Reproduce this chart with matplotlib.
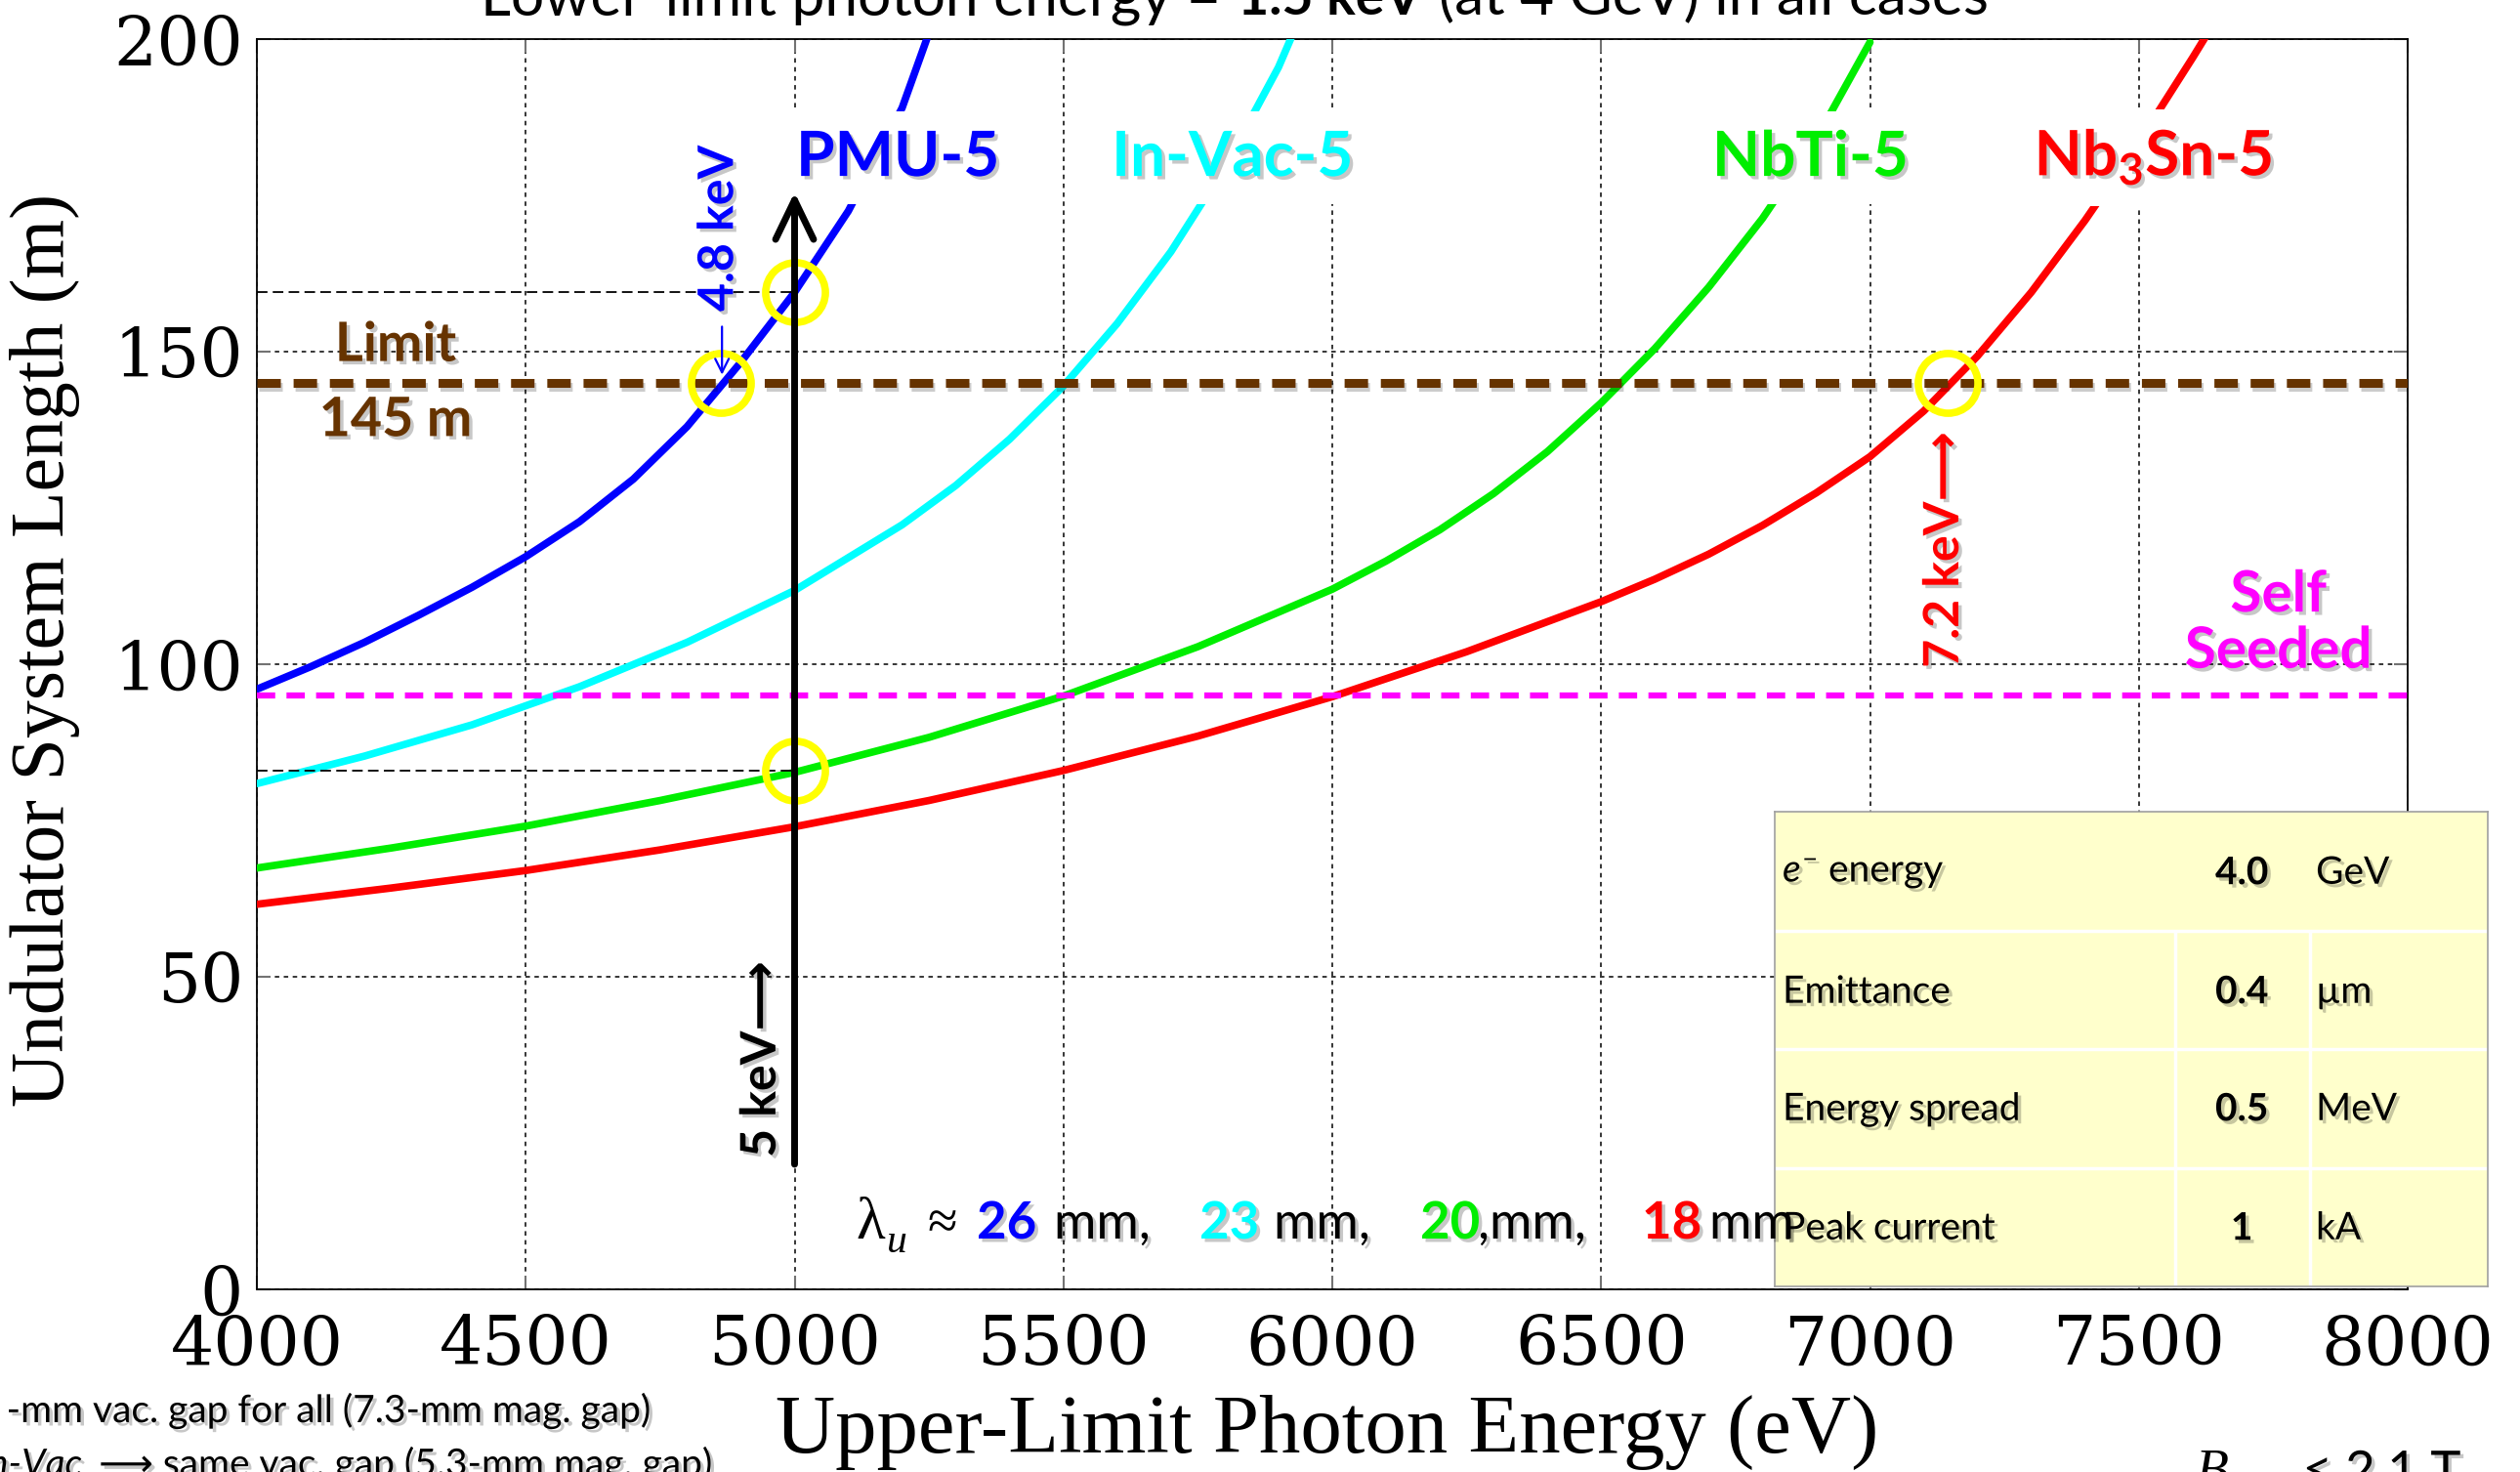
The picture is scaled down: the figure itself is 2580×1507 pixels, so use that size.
import matplotlib.pyplot as plt
import matplotlib.patheffects as pe
from matplotlib.transforms import IdentityTransform

plt.rcParams['mathtext.fontset'] = 'custom'
plt.rcParams['mathtext.rm'] = 'Lato'
plt.rcParams['mathtext.it'] = 'Lato:italic'
plt.rcParams['mathtext.bf'] = 'Lato:bold'

SANS = ['Lato', 'DejaVu Sans']
SERIF = ['Liberation Serif', 'DejaVu Serif']

####### undulator system length (m) vs upper-limit photon energy (eV) #######
pmu_E = [4000, 4100, 4200, 4300, 4400, 4500, 4600, 4700, 4800, 4900, 5000, 5100, 5200, 5250]
pmu_L = [96.0, 99.6, 103.5, 107.8, 112.3, 117.2, 122.8, 129.6, 138.0, 148.3, 159.5, 172.5, 189.0, 201.0]

invac_E = [4000, 4200, 4400, 4600, 4800, 5000, 5200, 5300, 5400, 5500, 5600, 5700, 5800, 5900, 5925]
invac_L = [80.9, 85.3, 90.3, 96.4, 103.5, 111.8, 122.3, 128.6, 136.0, 144.5, 154.5, 166.0, 179.5, 195.5, 200.5]

nbti_E = [4000, 4250, 4500, 4750, 5000, 5250, 5500, 5750, 6000, 6100, 6200, 6300, 6400, 6500,
          6600, 6700, 6800, 6900, 7000]
nbti_L = [67.4, 70.6, 74.1, 78.2, 82.7, 88.3, 94.9, 102.8, 112.0, 116.5, 121.5, 127.3, 134.0, 141.8,
          150.5, 160.3, 171.3, 184.0, 199.5]

nb3sn_E = [4000, 4250, 4500, 4750, 5000, 5250, 5500, 5750, 6000, 6250, 6500, 6600, 6700, 6800,
           6900, 7000, 7100, 7200, 7300, 7400, 7500, 7600, 7625]
nb3sn_L = [61.6, 64.2, 67.0, 70.3, 74.0, 78.2, 83.0, 88.5, 94.8, 102.0, 110.0, 113.6, 117.6, 122.2,
           127.4, 133.2, 140.5, 149.3, 159.5, 171.0, 183.5, 197.0, 200.5]

limit_L = 145      # length limit (m)
seeded_L = 95      # self-seeded
ref_E = 5000       # 5 keV reference
mark_E = [4862, 5000, 5000, 7145]
mark_L = [145, 159.5, 83, 145]

table_names = [r'$e^{-}$ energy', 'Emittance', 'Energy spread', 'Peak current']
table_vals = ['4.0', '0.4', '0.5', '1']
table_units = ['GeV', '\u00b5m', 'MeV', 'kA']

period_mm = ['26', '23', '20', '18']

BLUE, CYAN, GREEN, RED = '#0000FF', '#00FFFF', '#00EE00', '#FF0000'
BROWN, MAGENTA = '#663300', '#FF00FF'

shadow = [pe.withSimplePatchShadow(offset=(2.5, -2.5), shadow_rgbFace='k', alpha=0.22)]

W, H = 2580, 1507
fig = plt.figure(figsize=(W / 100, H / 100), dpi=100)
ax = fig.add_axes([263 / W, 1 - 1320 / H, 2202 / W, 1280 / H])

for E, L, c in [(pmu_E, pmu_L, BLUE), (invac_E, invac_L, CYAN),
                (nbti_E, nbti_L, GREEN), (nb3sn_E, nb3sn_L, RED)]:
    ax.plot(E, L, color=c, lw=5.5, zorder=3, solid_capstyle='round', solid_joinstyle='round')

ax.axhline(limit_L, color=BROWN, lw=6.5, dashes=(2.66, 1.45), zorder=4,
           path_effects=[pe.SimpleLineShadow(offset=(1.5, -3), alpha=0.2), pe.Normal()])
ax.axhline(seeded_L, color=MAGENTA, lw=4.5, dashes=(3.0, 1.85), zorder=4)
ax.hlines([mark_L[1], mark_L[2]], 4000, ref_E, colors='k', lw=1.3,
          linestyles=(0, (6, 3)), zorder=4)

ax.annotate('', xy=(ref_E, 175.5), xytext=(ref_E, 20),
            arrowprops=dict(arrowstyle='->,head_length=2.9,head_width=1.4', lw=5,
                            color='k', shrinkA=0, shrinkB=0), zorder=7)
ax.annotate('', xy=(4865, 146.3), xytext=(4865, 154),
            arrowprops=dict(arrowstyle='->,head_length=1.0,head_width=0.5', lw=1.6,
                            color=BLUE, shrinkA=0, shrinkB=0), zorder=7)
ax.plot(mark_E, mark_L, 'o', ms=44, mfc='none', mec='#FFFF00', mew=5.5, zorder=6)

ax.set_xlim(4000, 8000)
ax.set_ylim(0, 200)
ax.set_xticks(range(4000, 8001, 500))
ax.set_yticks(range(0, 201, 50))
ax.set_axisbelow(True)
ax.grid(True, color='k', lw=1.1, ls=(0, (3, 3)))
ax.tick_params(direction='in', length=10, width=1.5, color='0.45', top=True, right=True)
ax.tick_params(axis='x', pad=18, labelsize=50)
ax.tick_params(axis='y', pad=10, labelsize=50)
for lab in ax.get_xticklabels() + ax.get_yticklabels():
    lab.set_family('DejaVu Serif')
for s in ax.spines.values():
    s.set_linewidth(1.3)

ax.set_xlabel('Upper-Limit Photon Energy (eV)', family=SERIF, fontsize=61)
ax.set_ylabel('Undulator System Length (m)', family=SERIF, fontsize=56)
ax.xaxis.set_label_coords(0.4977, -0.084)
ax.yaxis.set_label_coords(-0.082, 0.511)

# curve names
box = dict(boxstyle='square,pad=0.3', fc='white', ec='none')
for x, s, c in [(5192, 'PMU-5', BLUE), (5814, 'In-Vac-5', CYAN),
                (6889, 'NbTi-5', GREEN), (7527, r'Nb$_{\mathbf{3}}$Sn-5', RED)]:
    ax.text(x, 181, s, color=c, fontsize=46, fontweight='bold', family=SANS,
            ha='center', va='center', bbox=box, zorder=5, path_effects=shadow)

ax.text(4258, 151, 'Limit', color=BROWN, fontsize=40, fontweight='bold', family=SANS,
        ha='center', va='center', zorder=5, path_effects=shadow)
ax.text(4258, 139, '145 m', color=BROWN, fontsize=40, fontweight='bold', family=SANS,
        ha='center', va='center', zorder=5, path_effects=shadow)
ax.text(7760, 111, 'Self', color=MAGENTA, fontsize=42, fontweight='bold', family=SANS,
        ha='center', va='center', zorder=5, path_effects=shadow)
ax.text(7760, 102, 'Seeded', color=MAGENTA, fontsize=42, fontweight='bold', family=SANS,
        ha='center', va='center', zorder=5, path_effects=shadow)

ax.text(4859, 169.7, '4.8 keV', color=BLUE, fontsize=36, fontweight='bold', family=SANS,
        rotation=90, ha='center', va='center', zorder=5, path_effects=shadow)
ax.text(4938, 36.8, '5 keV\u27f6', color='k', fontsize=36, fontweight='bold', family=SANS,
        rotation=90, ha='center', va='center', zorder=5, path_effects=shadow)
ax.text(7138, 118.3, '7.2 keV\u27f6', color=RED, fontsize=36, fontweight='bold', family=SANS,
        rotation=90, ha='center', va='center', zorder=5, path_effects=shadow)

# undulator periods line
px = IdentityTransform()
base = H - 1268
fig.text(876, base, '\u03bb', family=SERIF, fontsize=44, transform=px)
fig.text(908, H - 1282, 'u', family=SERIF, style='italic', fontsize=30, transform=px)
fig.text(949, base, '\u2248', family=SERIF, fontsize=40, transform=px)
pieces = [(1000, period_mm[0], BLUE, 'bold'), (1079, 'mm,', 'k', 'normal'),
          (1228, period_mm[1], CYAN, 'bold'), (1304, 'mm,', 'k', 'normal'),
          (1454, period_mm[2], GREEN, 'bold'), (1513, ',mm,', 'k', 'normal'),
          (1681, period_mm[3], RED, 'bold'), (1750, 'mm', 'k', 'normal')]
for x, s, c, w in pieces:
    fig.text(x, base, s, color=c, fontweight=w, family=SANS, fontsize=38,
             transform=px, path_effects=shadow)

# title (top clipped)
tb = H - 15
fig.text(1250, tb, 'Lower-limit photon energy =', family=SANS, fontsize=43.5, ha='right',
         transform=px)
fig.text(1267, tb, '1.5 keV', family=SANS, fontsize=40, fontweight='bold', transform=px)
fig.text(1473, tb, '(at 4 GeV) in all cases', family=SANS, fontsize=43.5, transform=px)

# footnotes
fig.text(666, H - 1456, '-mm vac. gap for all (7.3-mm mag. gap)', family=SANS, fontsize=28,
         ha='right', transform=px, path_effects=shadow)
r = fig.canvas.get_renderer()
t2 = fig.text(729, -4, '\u27f6 same vac. gap (5.3-mm mag. gap)', family=SANS, fontsize=28,
              ha='right', transform=px, path_effects=shadow)
x0 = t2.get_window_extent(r).x0
fig.text(x0 - 17, -4, 'In-Vac', family=SANS, style='italic', fontsize=28,
         ha='right', transform=px, path_effects=shadow)
fig.text(2247, -16, 'B', family=SERIF, style='italic', fontsize=40, transform=px)
fig.text(2277, -30, 'max', family=SERIF, style='italic', fontsize=26, transform=px)
fig.text(2357, -16, '\u2264 2.1 T', family=SANS, fontsize=38, transform=px,
         path_effects=shadow)

# beam parameter table
tax = fig.add_axes([1817 / W, 1 - 1317 / H, 730 / W, 486 / H])
tax.set_facecolor('#FFFFCC')
tax.set_xlim(0, 1)
tax.set_ylim(0, 1)
tax.set_xticks([])
tax.set_yticks([])
for s in tax.spines.values():
    s.set_color('#A0A0A0')
    s.set_linewidth(1.2)
for yy in [0.25, 0.5, 0.75]:
    tax.axhline(yy, color='white', lw=2.5)
tax.vlines([0.5616, 0.7507], 0, 0.75, color='white', lw=2.5)
row_y = [0.871, 0.62, 0.373, 0.122]
for y, n, v, u in zip(row_y, table_names, table_vals, table_units):
    tax.text(0.011, y, n, family=SANS, fontsize=28, va='center', path_effects=shadow)
    tax.text(0.655, y, v, family=SANS, fontsize=28, fontweight='bold', ha='center',
             va='center', path_effects=shadow)
    tax.text(0.759, y, u, family=SANS, fontsize=28, va='center', path_effects=shadow)

fig.savefig('out.png', dpi=100)
